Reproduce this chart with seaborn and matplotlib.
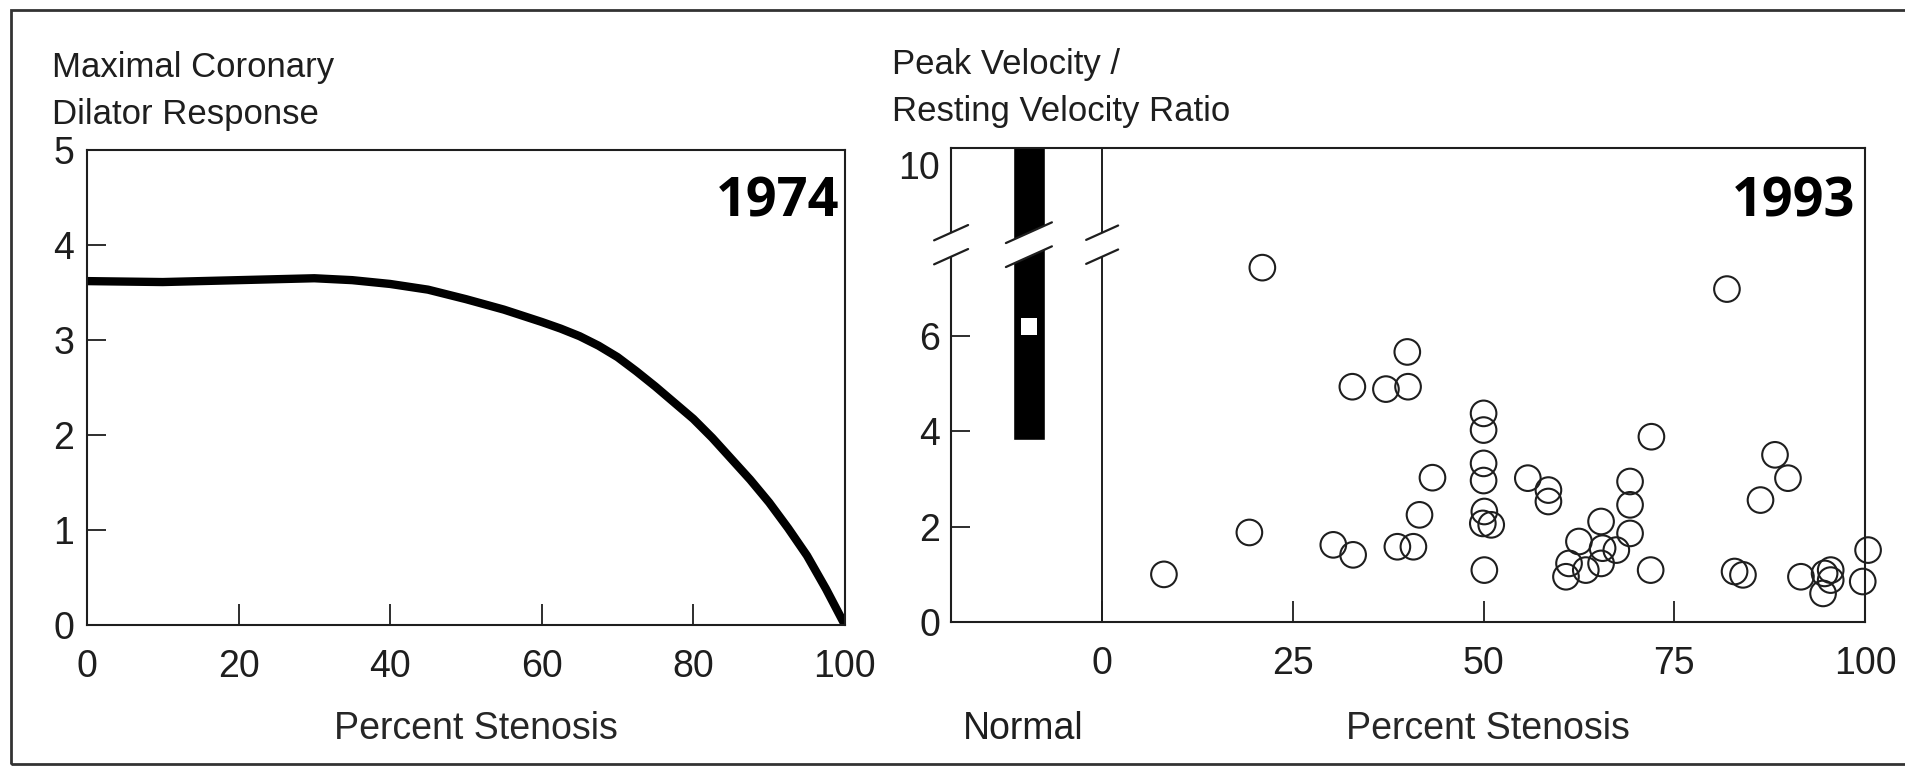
import numpy as np
import matplotlib
matplotlib.use("Agg")
import matplotlib.pyplot as plt
import matplotlib.transforms as mtransforms
from matplotlib.patches import Polygon, Rectangle
import seaborn as sns

# --- data ---
# 1974: maximal coronary dilator response vs percent stenosis
stenosis_1974 = [0, 10, 20, 30, 35, 40, 45, 50, 55, 60, 62.5, 65, 67.5, 70, 72.5, 75,
                 77.5, 80, 82.5, 85, 87.5, 90, 92.5, 95, 97.5, 100]
response_1974 = [3.62, 3.61, 3.63, 3.65, 3.63, 3.59, 3.53, 3.43, 3.32, 3.19, 3.12, 3.04,
                 2.94, 2.82, 2.67, 2.51, 2.34, 2.17, 1.97, 1.75, 1.53, 1.29, 1.02, 0.73,
                 0.38, 0.0]

# 1993: peak / resting velocity ratio for individual patients
stenosis_1993 = [8.1, 19.3, 21.0, 30.3, 32.8, 32.9, 37.2, 38.7, 40.0, 40.1, 40.8, 41.6, 43.3,
                 50.0, 50.0, 50.0, 50.0, 50.1, 49.9, 51.0, 50.1,
                 55.8, 58.5, 58.5, 60.8, 61.2, 62.5, 63.4, 65.4, 65.4, 65.6, 67.4, 69.2, 69.2,
                 69.2, 71.9, 72.0,
                 81.9, 82.9, 84.0, 86.3, 88.2, 89.9, 91.6, 94.5, 94.7, 95.5, 95.5, 99.7, 100.4]
ratio_1993 = [1.00, 1.88, 7.44, 1.62, 4.94, 1.41, 4.89, 1.58, 5.67, 4.94, 1.58, 2.25, 3.03,
              4.38, 4.03, 3.33, 2.97, 2.32, 2.07, 2.04, 1.09,
              3.02, 2.77, 2.53, 0.95, 1.23, 1.69, 1.09, 2.11, 1.23, 1.55, 1.51, 2.95, 2.46,
              1.86, 1.09, 3.89,
              6.99, 1.06, 0.99, 2.56, 3.51, 3.02, 0.95, 0.60, 1.02, 0.88, 1.09, 0.85, 1.51]

# normal range (black bar) and its mean (white square)
normal_x = -9.6
normal_low = 3.82
normal_high = 10.6
normal_mean = 6.2

x_ticks_1974 = [0, 20, 40, 60, 80, 100]
y_ticks_1974 = [0, 1, 2, 3, 4, 5]
x_ticks_1993 = [0, 25, 50, 75, 100]
y_ticks_1993 = [0, 2, 4, 6, 10]

# --- style ---
sns.set_theme(style="white")
plt.rcParams.update({
    "font.family": ["Liberation Sans", "DejaVu Sans"],
    "text.color": "#1e1e1e",
    "axes.edgecolor": "#1e1e1e",
    "axes.linewidth": 1.5,
    "xtick.color": "#1e1e1e",
    "ytick.color": "#1e1e1e",
})

TICK_FS = 27
LABEL_FS = 27
TITLE_FS = 25


# broken y axis: compress everything above 8
def fwd(y):
    y = np.asarray(y, dtype=float)
    return np.where(y <= 8, y, 8 + (y - 8) * 0.8)


def inv(v):
    v = np.asarray(v, dtype=float)
    return np.where(v <= 8, v, 8 + (v - 8) / 0.8)


def break_mark(ax, xc, half_w, yc=0.796, gap=24, slope=0.45):
    bbox = ax.get_window_extent()
    W, H = bbox.width, bbox.height
    x0, x1 = xc - half_w / W, xc + half_w / W
    up = [yc + (gap / 2 - slope * half_w) / H, yc + (gap / 2 + slope * half_w) / H]
    lo = [yc + (-gap / 2 - slope * half_w) / H, yc + (-gap / 2 + slope * half_w) / H]
    poly = Polygon([(x0, lo[0]), (x1, lo[1]), (x1, up[1]), (x0, up[0])],
                   closed=True, facecolor="white", edgecolor="none",
                   transform=ax.transAxes, clip_on=False, zorder=5)
    ax.add_patch(poly)
    for ys in (up, lo):
        ax.plot([x0, x1], ys, color="#1e1e1e", lw=1.6, transform=ax.transAxes,
                clip_on=False, zorder=6)


fig = plt.figure(figsize=(19.06, 7.7), dpi=100)
ax1 = fig.add_axes([0.0456, 0.1883, 0.3977, 0.6169])
ax2 = fig.add_axes([0.4990, 0.1922, 0.4795, 0.6156])

# ---------------- 1974 panel ----------------
sns.lineplot(x=stenosis_1974, y=response_1974, ax=ax1, color="black",
             linewidth=6, solid_capstyle="round", solid_joinstyle="round")
ax1.set_xlim(0, 100)
ax1.set_ylim(0, 5)
ax1.set_xticks(x_ticks_1974)
ax1.set_yticks(y_ticks_1974)
ax1.tick_params(axis="x", bottom=True, direction="in", length=15, width=1.3, pad=17,
                labelsize=TICK_FS)
ax1.tick_params(axis="y", left=True, direction="in", length=14, width=1.3, pad=9,
                labelsize=TICK_FS)
ax1.set_xlabel("Percent Stenosis", fontsize=LABEL_FS)
ax1.xaxis.set_label_coords(0.513, -0.18)
ax1.xaxis.label.set_va("top")
ax1.set_ylabel("")
ax1.text(0.992, 0.889, "1974", transform=ax1.transAxes, ha="right", va="center",
         fontsize=39, fontweight="bold", family=["Open Sans", "DejaVu Sans"], color="black")

# ---------------- 1993 panel ----------------
ax2.set_yscale("function", functions=(fwd, inv))
ax2.bar(normal_x, normal_high - normal_low, bottom=normal_low, width=4.1,
        color="black", zorder=2)
ax2.scatter([normal_x], [normal_mean], marker="s", s=140, color="white",
            edgecolors="none", zorder=3)
ax2.axvline(0, color="#1e1e1e", lw=1.4, zorder=2)
sns.scatterplot(x=stenosis_1993, y=ratio_1993, ax=ax2, marker="o", s=340,
                facecolor="none", edgecolor="#1e1e1e", linewidth=1.5, zorder=4)
ax2.collections[-1].set_clip_on(False)
ax2.set_xlim(-19.8, 100)
ax2.set_ylim(0, 10.44)
ax2.set_xticks(x_ticks_1993)
ax2.set_yticks(y_ticks_1993)
ax2.set_yticklabels([str(v) for v in y_ticks_1993])
ax2.tick_params(axis="x", bottom=True, direction="in", length=15, width=1.3, pad=17,
                labelsize=TICK_FS)
ax2.tick_params(axis="y", left=True, direction="in", length=14, width=1.3, pad=8,
                labelsize=TICK_FS)
ax2.yaxis.get_major_ticks()[-1].tick1line.set_visible(False)
ax2.set_xlabel("Percent Stenosis", fontsize=LABEL_FS)
ax2.xaxis.set_label_coords(0.5875, -0.187)
ax2.xaxis.label.set_va("top")
ax2.set_ylabel("")
trans = mtransforms.blended_transform_factory(ax2.transData, ax2.transAxes)
ax2.text(normal_x - 0.8, -0.187, "Normal", transform=trans, ha="center", va="top",
         fontsize=LABEL_FS)
ax2.text(0.989, 0.886, "1993", transform=ax2.transAxes, ha="right", va="center",
         fontsize=39, fontweight="bold", family=["Open Sans", "DejaVu Sans"], color="black")

# break marks on the left spine, through the normal bar and on the divider
x_bar = (normal_x + 19.8) / 119.8
x_div = 19.8 / 119.8
break_mark(ax2, 0.0, 17)
break_mark(ax2, x_bar, 23)
break_mark(ax2, x_div, 16)

# y-axis titles sit above the axes
fig.text(52 / 1906, 1 - 77 / 770, "Maximal Coronary", fontsize=TITLE_FS, va="baseline")
fig.text(52 / 1906, 1 - 124 / 770, "Dilator Response", fontsize=TITLE_FS, va="baseline")
fig.text(892 / 1906, 1 - 74 / 770, "Peak Velocity /", fontsize=TITLE_FS, va="baseline")
fig.text(892 / 1906, 1 - 121 / 770, "Resting Velocity Ratio", fontsize=TITLE_FS, va="baseline")

# thin frame of the scanned page
fig.add_artist(Rectangle((11 / 1906, 6 / 770), 1.0, 1 - 16 / 770, transform=fig.transFigure,
                         fill=False, edgecolor="#333333", lw=2))

fig.savefig("out.png", dpi=100, facecolor="white")
